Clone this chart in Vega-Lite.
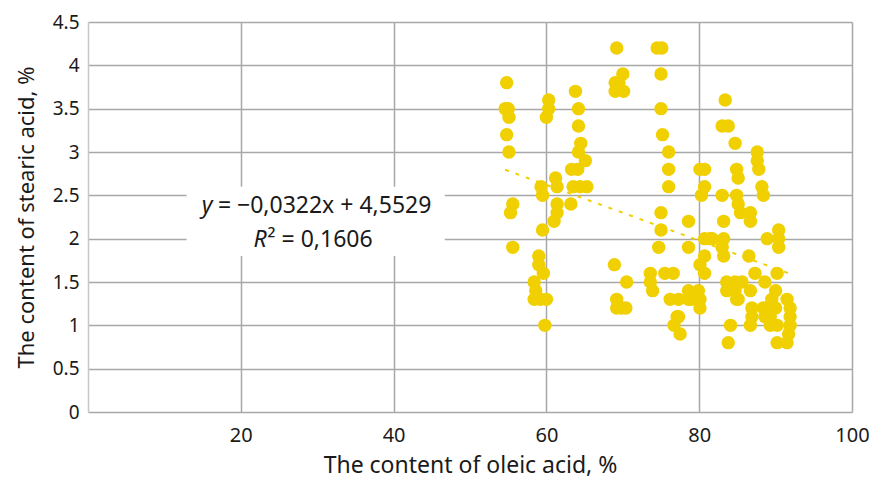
{
  "$schema": "https://vega.github.io/schema/vega-lite/v6.json",
  "width": 764,
  "height": 390,
  "autosize": {"type": "none"},
  "padding": {"left": 88, "top": 22, "right": 23, "bottom": 69},
  "background": "white",
  "config": {
    "view": {"stroke": null},
    "font": "Noto Sans",
    "axis": {
      "labelFont": "Noto Sans",
      "titleFont": "Noto Sans",
      "labelFontSize": 20,
      "titleFontSize": 22,
      "titleFontWeight": "normal",
      "labelColor": "#1a1a1a",
      "titleColor": "#1a1a1a",
      "gridColor": "#a8a8a8",
      "gridWidth": 1.5,
      "ticks": false,
      "labelFlush": false
    }
  },
  "layer": [
    {
      "data": {"name": "pts", "values": [
        {"oleic": 54.8, "stearic": 3.8}, {"oleic": 54.6, "stearic": 3.5}, {"oleic": 55.0, "stearic": 3.5}, {"oleic": 55.1, "stearic": 3.4}, {"oleic": 54.8, "stearic": 3.2}, {"oleic": 55.1, "stearic": 3.0}, {"oleic": 55.6, "stearic": 2.4}, {"oleic": 55.3, "stearic": 2.3}, {"oleic": 55.6, "stearic": 1.9},
        {"oleic": 60.3, "stearic": 3.6}, {"oleic": 60.3, "stearic": 3.5}, {"oleic": 60.0, "stearic": 3.4}, {"oleic": 61.2, "stearic": 2.7}, {"oleic": 59.3, "stearic": 2.6}, {"oleic": 61.4, "stearic": 2.6}, {"oleic": 59.5, "stearic": 2.5}, {"oleic": 61.4, "stearic": 2.4}, {"oleic": 61.4, "stearic": 2.3}, {"oleic": 61.0, "stearic": 2.2}, {"oleic": 59.5, "stearic": 2.1}, {"oleic": 59.0, "stearic": 1.8}, {"oleic": 59.0, "stearic": 1.7}, {"oleic": 59.6, "stearic": 1.6}, {"oleic": 58.4, "stearic": 1.5}, {"oleic": 58.6, "stearic": 1.4}, {"oleic": 58.4, "stearic": 1.3}, {"oleic": 59.2, "stearic": 1.3}, {"oleic": 60.0, "stearic": 1.3}, {"oleic": 59.8, "stearic": 1.0},
        {"oleic": 63.8, "stearic": 3.7}, {"oleic": 64.2, "stearic": 3.5}, {"oleic": 64.2, "stearic": 3.3}, {"oleic": 64.5, "stearic": 3.1}, {"oleic": 64.2, "stearic": 3.0}, {"oleic": 65.1, "stearic": 2.9}, {"oleic": 63.3, "stearic": 2.8}, {"oleic": 64.1, "stearic": 2.8}, {"oleic": 63.5, "stearic": 2.6}, {"oleic": 64.4, "stearic": 2.6}, {"oleic": 65.3, "stearic": 2.6}, {"oleic": 63.2, "stearic": 2.4},
        {"oleic": 69.2, "stearic": 4.2}, {"oleic": 70.0, "stearic": 3.9}, {"oleic": 69.0, "stearic": 3.8}, {"oleic": 69.5, "stearic": 3.8}, {"oleic": 69.0, "stearic": 3.7}, {"oleic": 70.1, "stearic": 3.7}, {"oleic": 68.9, "stearic": 1.7}, {"oleic": 70.5, "stearic": 1.5}, {"oleic": 69.2, "stearic": 1.3}, {"oleic": 69.2, "stearic": 1.2}, {"oleic": 69.8, "stearic": 1.2}, {"oleic": 70.4, "stearic": 1.2},
        {"oleic": 74.5, "stearic": 4.2}, {"oleic": 75.1, "stearic": 4.2}, {"oleic": 75.0, "stearic": 3.9}, {"oleic": 75.0, "stearic": 3.5}, {"oleic": 75.2, "stearic": 3.2}, {"oleic": 76.0, "stearic": 3.0}, {"oleic": 76.0, "stearic": 2.8}, {"oleic": 76.0, "stearic": 2.6}, {"oleic": 75.0, "stearic": 2.3}, {"oleic": 75.0, "stearic": 2.1}, {"oleic": 74.7, "stearic": 1.9}, {"oleic": 73.6, "stearic": 1.6}, {"oleic": 73.6, "stearic": 1.5}, {"oleic": 73.9, "stearic": 1.4}, {"oleic": 75.5, "stearic": 1.6}, {"oleic": 76.6, "stearic": 1.6},
        {"oleic": 76.2, "stearic": 1.3}, {"oleic": 77.3, "stearic": 1.3}, {"oleic": 78.6, "stearic": 1.4}, {"oleic": 79.9, "stearic": 1.4}, {"oleic": 78.6, "stearic": 1.3}, {"oleic": 79.0, "stearic": 1.3}, {"oleic": 80.1, "stearic": 1.3}, {"oleic": 80.1, "stearic": 1.2}, {"oleic": 77.3, "stearic": 1.1}, {"oleic": 77.1, "stearic": 1.1}, {"oleic": 76.7, "stearic": 1.0}, {"oleic": 77.5, "stearic": 0.9},
        {"oleic": 78.6, "stearic": 2.2}, {"oleic": 78.6, "stearic": 1.9}, {"oleic": 80.7, "stearic": 2.0}, {"oleic": 81.4, "stearic": 2.0}, {"oleic": 80.7, "stearic": 1.8}, {"oleic": 80.1, "stearic": 1.7}, {"oleic": 80.7, "stearic": 1.6}, {"oleic": 80.3, "stearic": 2.5}, {"oleic": 80.1, "stearic": 2.8}, {"oleic": 80.7, "stearic": 2.8}, {"oleic": 80.7, "stearic": 2.6}, {"oleic": 81.7, "stearic": 2.0},
        {"oleic": 83.4, "stearic": 3.6}, {"oleic": 83.0, "stearic": 3.3}, {"oleic": 83.8, "stearic": 3.3}, {"oleic": 84.7, "stearic": 3.1}, {"oleic": 84.9, "stearic": 2.8}, {"oleic": 85.1, "stearic": 2.7}, {"oleic": 83.0, "stearic": 2.5}, {"oleic": 84.9, "stearic": 2.5}, {"oleic": 85.1, "stearic": 2.4}, {"oleic": 85.4, "stearic": 2.3}, {"oleic": 86.7, "stearic": 2.3}, {"oleic": 86.7, "stearic": 2.2}, {"oleic": 83.2, "stearic": 2.2}, {"oleic": 83.2, "stearic": 2.0}, {"oleic": 83.0, "stearic": 1.9}, {"oleic": 83.2, "stearic": 1.8},
        {"oleic": 83.6, "stearic": 1.5}, {"oleic": 84.7, "stearic": 1.5}, {"oleic": 85.6, "stearic": 1.5}, {"oleic": 83.6, "stearic": 1.4}, {"oleic": 84.7, "stearic": 1.4}, {"oleic": 86.7, "stearic": 1.4}, {"oleic": 84.9, "stearic": 1.3}, {"oleic": 85.1, "stearic": 1.3}, {"oleic": 86.9, "stearic": 1.2}, {"oleic": 86.9, "stearic": 1.1}, {"oleic": 84.1, "stearic": 1.0}, {"oleic": 83.8, "stearic": 0.8}, {"oleic": 86.5, "stearic": 1.8}, {"oleic": 87.3, "stearic": 1.6}, {"oleic": 86.7, "stearic": 1.0},
        {"oleic": 87.6, "stearic": 3.0}, {"oleic": 87.6, "stearic": 2.9}, {"oleic": 87.8, "stearic": 2.8}, {"oleic": 88.2, "stearic": 2.6}, {"oleic": 88.4, "stearic": 2.5}, {"oleic": 88.9, "stearic": 2.0}, {"oleic": 90.4, "stearic": 2.1}, {"oleic": 90.4, "stearic": 2.0}, {"oleic": 90.4, "stearic": 1.9}, {"oleic": 88.6, "stearic": 1.5}, {"oleic": 90.2, "stearic": 1.6}, {"oleic": 90.0, "stearic": 1.4}, {"oleic": 89.5, "stearic": 1.3}, {"oleic": 91.5, "stearic": 1.3}, {"oleic": 88.4, "stearic": 1.2}, {"oleic": 90.0, "stearic": 1.2}, {"oleic": 91.9, "stearic": 1.2}, {"oleic": 88.6, "stearic": 1.1}, {"oleic": 91.9, "stearic": 1.1}, {"oleic": 89.3, "stearic": 1.0}, {"oleic": 90.2, "stearic": 1.0}, {"oleic": 91.9, "stearic": 1.0}, {"oleic": 91.7, "stearic": 0.9}, {"oleic": 90.2, "stearic": 0.8}, {"oleic": 91.5, "stearic": 0.8}, {"oleic": 88.9, "stearic": 1.2}, {"oleic": 89.3, "stearic": 1.1}
      ]},
      "mark": {"type": "circle", "size": 180, "color": "#F0D000", "opacity": 1},
      "encoding": {
        "x": {"field": "oleic", "type": "quantitative", "scale": {"domain": [0, 100], "nice": false, "zero": false},
          "axis": {"title": "The content of oleic acid, %", "values": [20, 40, 60, 80, 100], "domain": false, "labelPadding": 13, "titlePadding": 9, "titleFontSize": 23}},
        "y": {"field": "stearic", "type": "quantitative", "scale": {"domain": [0, 4.5], "nice": false},
          "axis": {"title": "The content of stearic acid, %", "values": [0, 0.5, 1, 1.5, 2, 2.5, 3, 3.5, 4, 4.5], "labelExpr": "datum.value", "labelFontSize": 19, "domain": true, "domainColor": "#c8c8c8", "domainWidth": 1.5, "labelPadding": 9, "titlePadding": 14}}
      }
    },
    {
      "data": {"values": [{"oleic": 54.6, "stearic": 2.795}, {"oleic": 92.3, "stearic": 1.581}]},
      "mark": {"type": "line", "color": "#F0D000", "strokeWidth": 2, "strokeDash": [4, 7]},
      "encoding": {
        "x": {"field": "oleic", "type": "quantitative"},
        "y": {"field": "stearic", "type": "quantitative"}
      }
    },
    {
      "data": {"values": [{"x1": 12.9, "x2": 46.7, "y1": 1.8, "y2": 2.6}]},
      "mark": {"type": "rect", "color": "white"},
      "encoding": {
        "x": {"field": "x1", "type": "quantitative"},
        "x2": {"field": "x2"},
        "y": {"field": "y1", "type": "quantitative"},
        "y2": {"field": "y2"}
      }
    },
    {
      "data": {"values": [{"x": 16.3, "y": 2.38, "t": "y"}, {"x": 23.4, "y": 1.98, "t": "R"}]},
      "mark": {"type": "text", "fontSize": 23, "font": "Noto Sans", "fontStyle": "italic", "color": "#1a1a1a", "align": "right", "baseline": "middle"},
      "encoding": {
        "x": {"field": "x", "type": "quantitative"},
        "y": {"field": "y", "type": "quantitative"},
        "text": {"field": "t"}
      }
    },
    {
      "data": {"values": [{"x": 17.0, "y": 2.38, "t": "= −0,0322x + 4,5529"}, {"x": 23.5, "y": 1.98, "t": "² = 0,1606"}]},
      "mark": {"type": "text", "fontSize": 23, "font": "Noto Sans", "color": "#1a1a1a", "align": "left", "baseline": "middle"},
      "encoding": {
        "x": {"field": "x", "type": "quantitative"},
        "y": {"field": "y", "type": "quantitative"},
        "text": {"field": "t"}
      }
    }
  ]
}
